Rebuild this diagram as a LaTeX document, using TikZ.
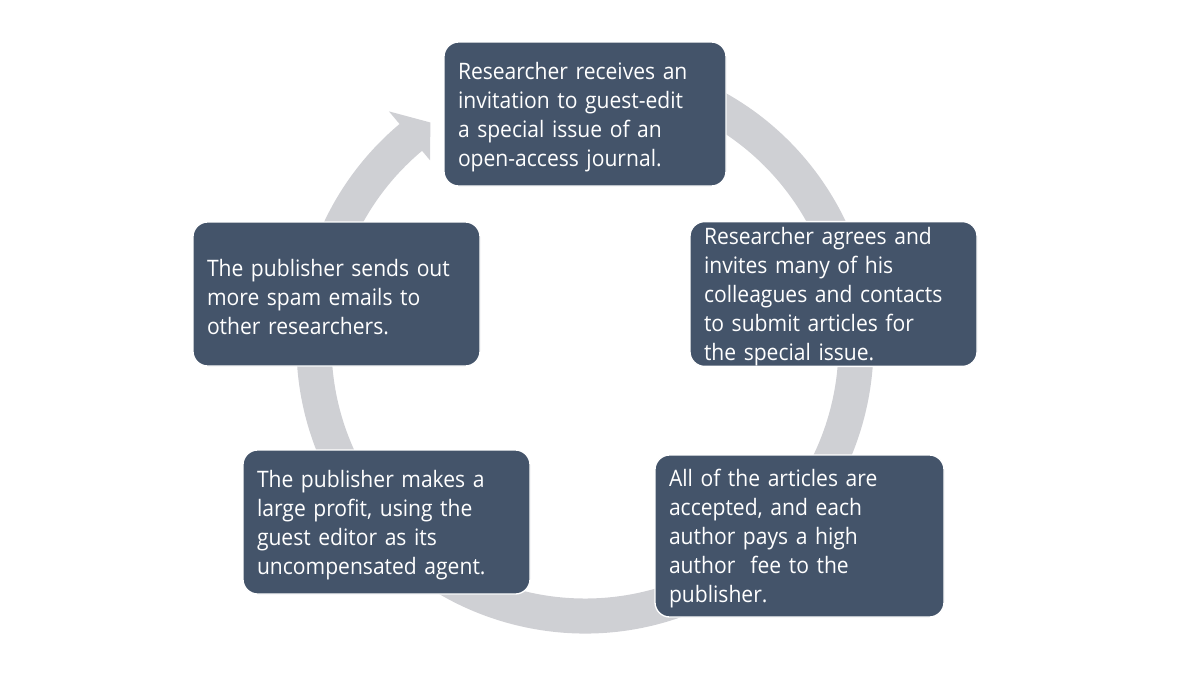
\documentclass[tikz,border=0pt]{standalone}
\usepackage{fontspec}
\setmainfont{Open Sans}[FakeStretch=0.93]
\usetikzlibrary{calc}
\definecolor{boxfill}{HTML}{44546A}
\definecolor{ringgray}{HTML}{CFD0D4}
\newcommand{\topfix}{\rule{0pt}{17.5pt}}
\tikzset{
  stepbox/.style={rectangle, rounded corners=11pt, fill=boxfill, draw=white, line width=1pt,
    text=white, align=left, inner xsep=10.5pt, inner ysep=0pt,
    font=\fontsize{17}{21.75}\selectfont},
  ring/.style={fill=ringgray}
}
\begin{document}
\begin{tikzpicture}[x=0.75pt,y=0.75pt]
\useasboundingbox (0,0) rectangle (1200,-694);
\coordinate (c) at (585,-345);
% ring arrow
\fill[ring] ($(c)+(80:288.5)$) arc[start angle=80, end angle=-230, radius=288.5]
  -- ($(c)+(-230:305)$) -- ($(c)+(-235.2:271)$) -- ($(c)+(-230:241)$)
  -- ($(c)+(-230:253.5)$) arc[start angle=-230, end angle=80, radius=253.5] -- cycle;
% boxes
\node[stepbox, minimum width=282*0.75pt, minimum height=144*0.75pt, text width=254*0.75pt] (n1) at (585,-114)
  {\topfix Researcher receives an\\invitation to guest-edit\\a special issue of an\\open-access journal.};
\node[stepbox, minimum width=287*0.75pt, minimum height=144*0.75pt, text width=259*0.75pt] (n2) at (833.5,-294)
  {\topfix Researcher agrees and\\invites many of his\\colleagues and contacts\\to submit articles for\\the special issue.};
\node[stepbox, minimum width=289*0.75pt, minimum height=162*0.75pt, text width=261*0.75pt] (n3) at (799.5,-536)
  {\topfix All of the articles are\\accepted, and each\\author pays a high\\author\ \ fee to the\\publisher.};
\node[stepbox, minimum width=287*0.75pt, minimum height=144*0.75pt, text width=259*0.75pt] (n4) at (386.5,-522)
  {\topfix The publisher makes a\\large profit, using the\\guest editor as its\\uncompensated agent.};
\node[stepbox, minimum width=287*0.75pt, minimum height=144*0.75pt, text width=259*0.75pt] (n5) at (336.5,-294)
  {\topfix The publisher sends out\\more spam emails to\\other researchers.};
\end{tikzpicture}
\end{document}
